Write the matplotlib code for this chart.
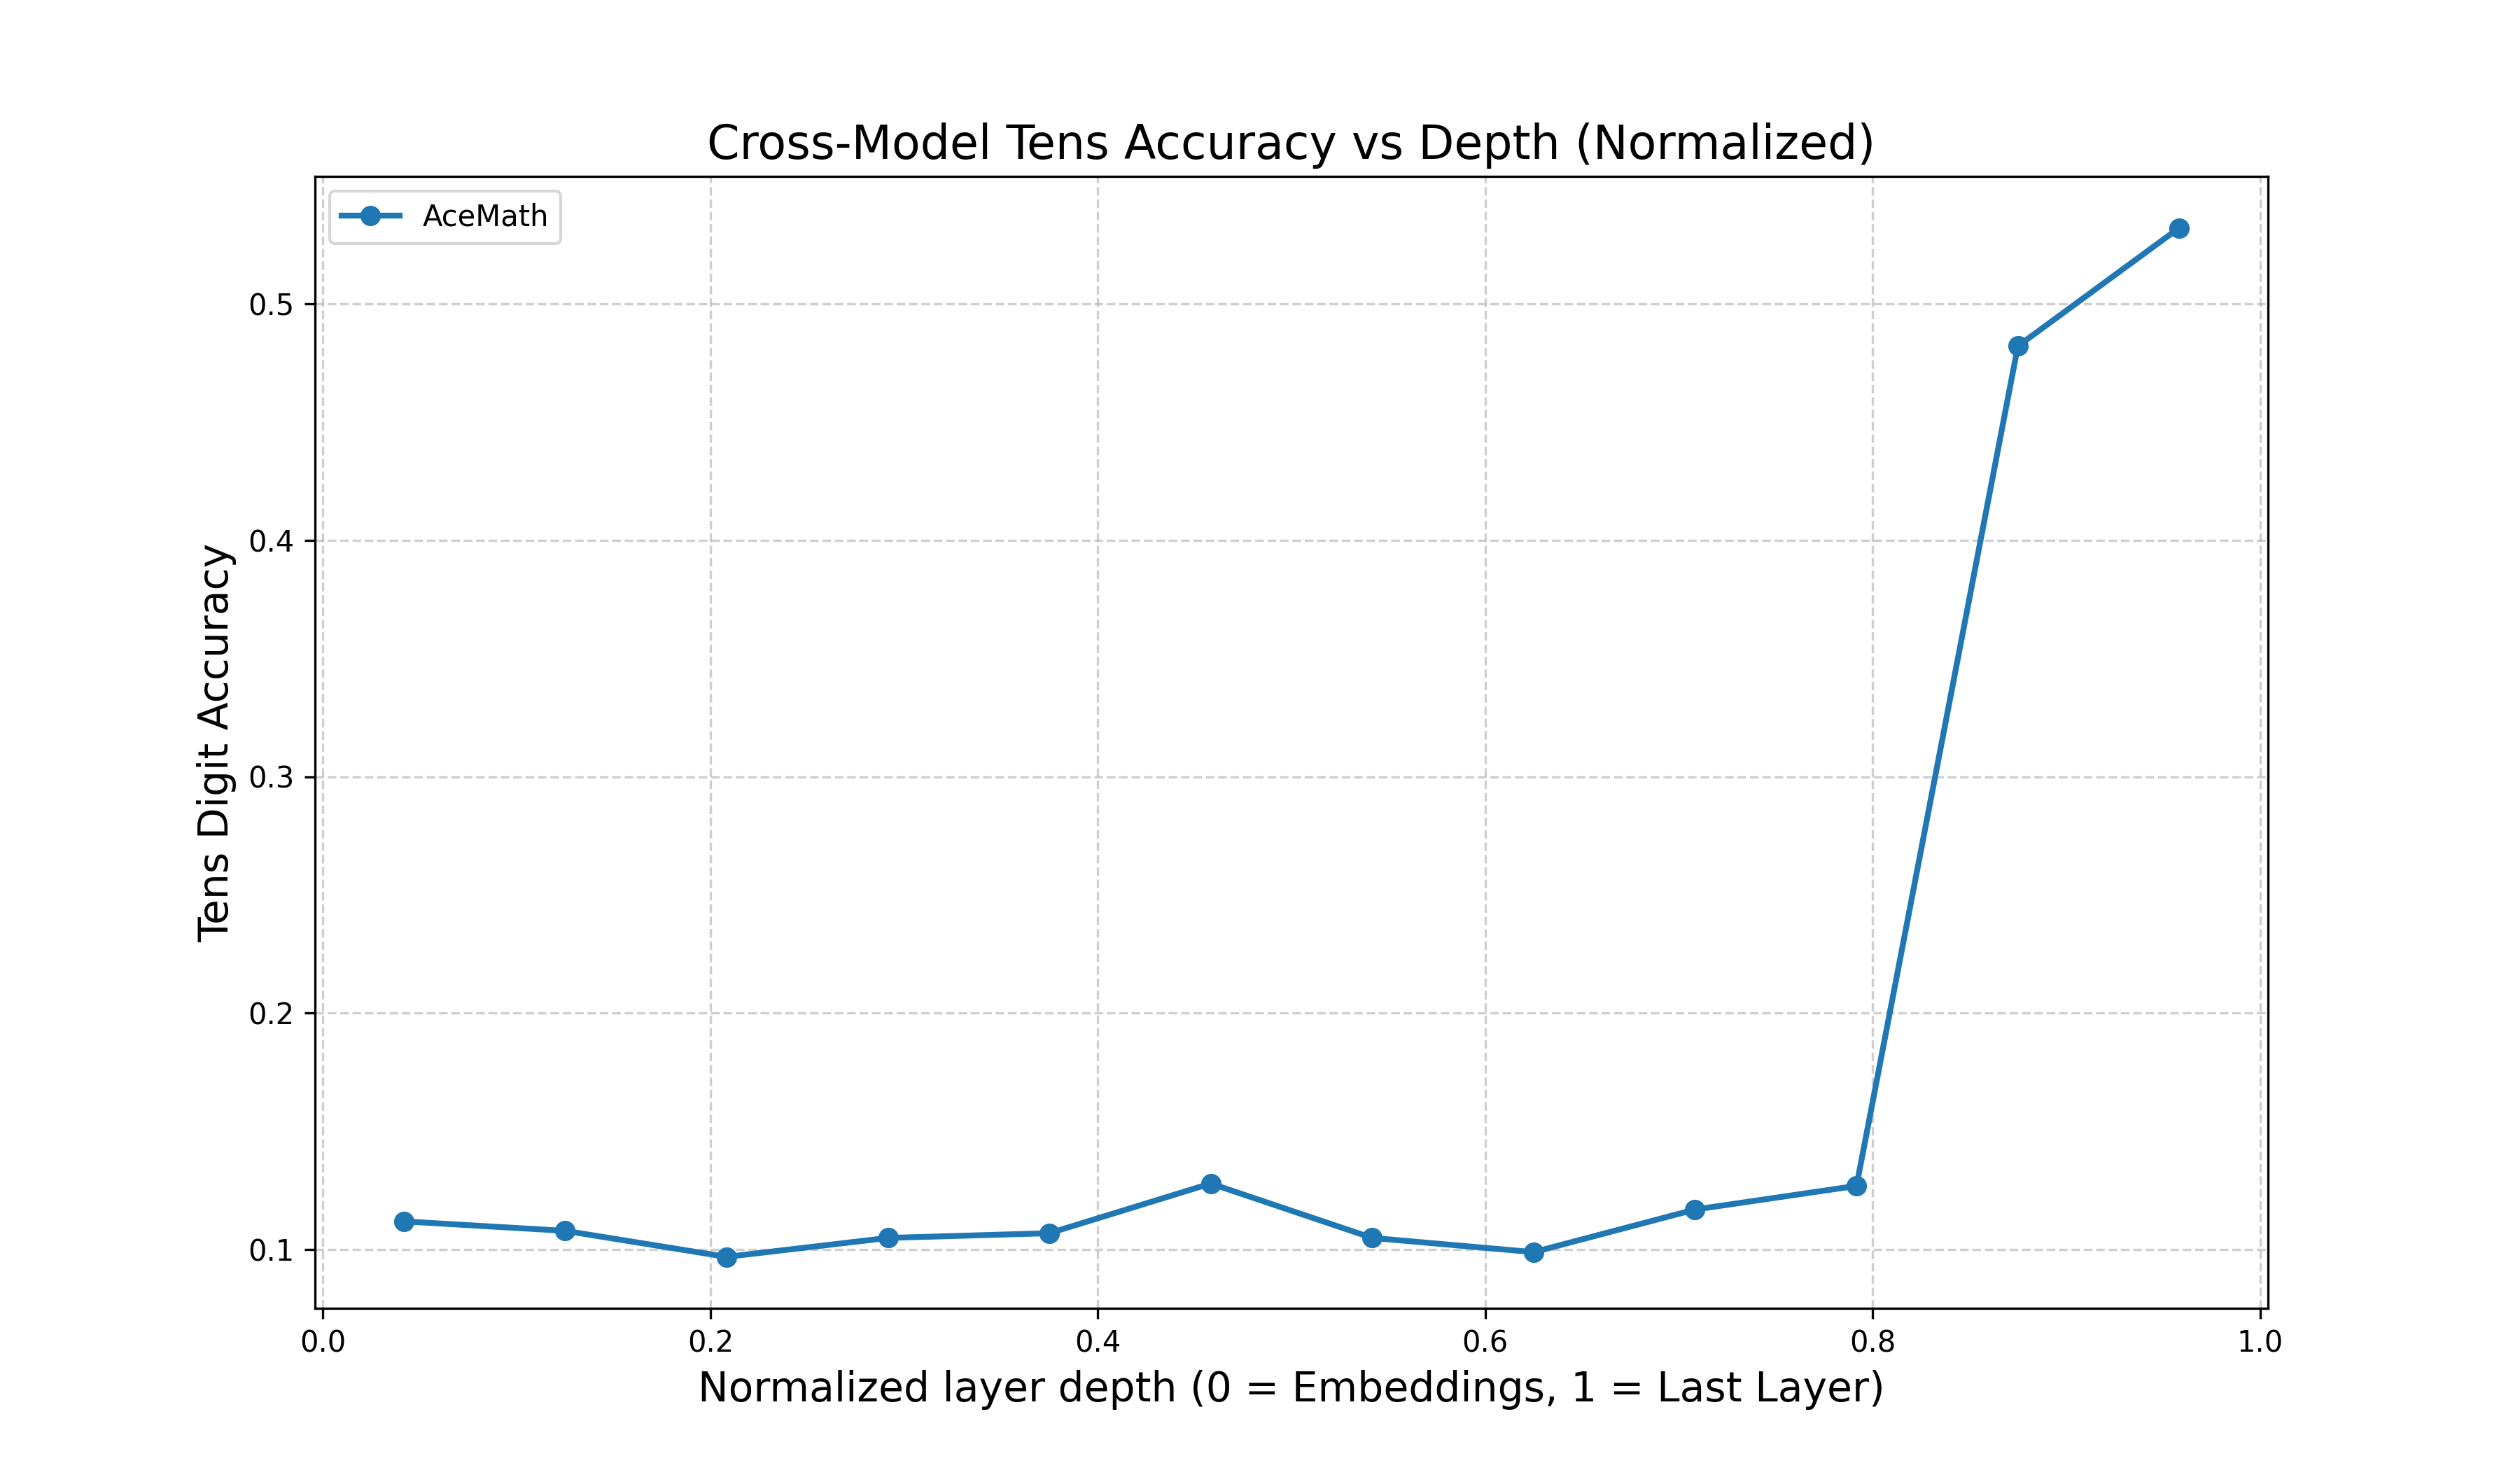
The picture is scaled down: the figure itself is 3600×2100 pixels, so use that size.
import matplotlib
matplotlib.use("Agg")
import matplotlib.pyplot as plt

DEPTH = [0.0417, 0.125, 0.2083, 0.2917, 0.375, 0.4583, 0.5417, 0.625, 0.7083, 0.7917, 0.875, 0.9583]
ACCURACY = [0.112, 0.108, 0.097, 0.105, 0.107, 0.128, 0.105, 0.099, 0.117, 0.127, 0.482, 0.532]

fig, ax = plt.subplots(figsize=(12, 7), dpi=300)
ax.plot(DEPTH, ACCURACY, marker="o", linewidth=2, markersize=6, color="#1f77b4", label="AceMath")
ax.set_title("Cross-Model Tens Accuracy vs Depth (Normalized)", fontsize=16)
ax.set_xlabel("Normalized layer depth (0 = Embeddings, 1 = Last Layer)", fontsize=14)
ax.set_ylabel("Tens Digit Accuracy", fontsize=14)
ax.grid(True, linestyle="--", alpha=0.6)
ax.legend(loc="upper left")
fig.savefig("out.png")
